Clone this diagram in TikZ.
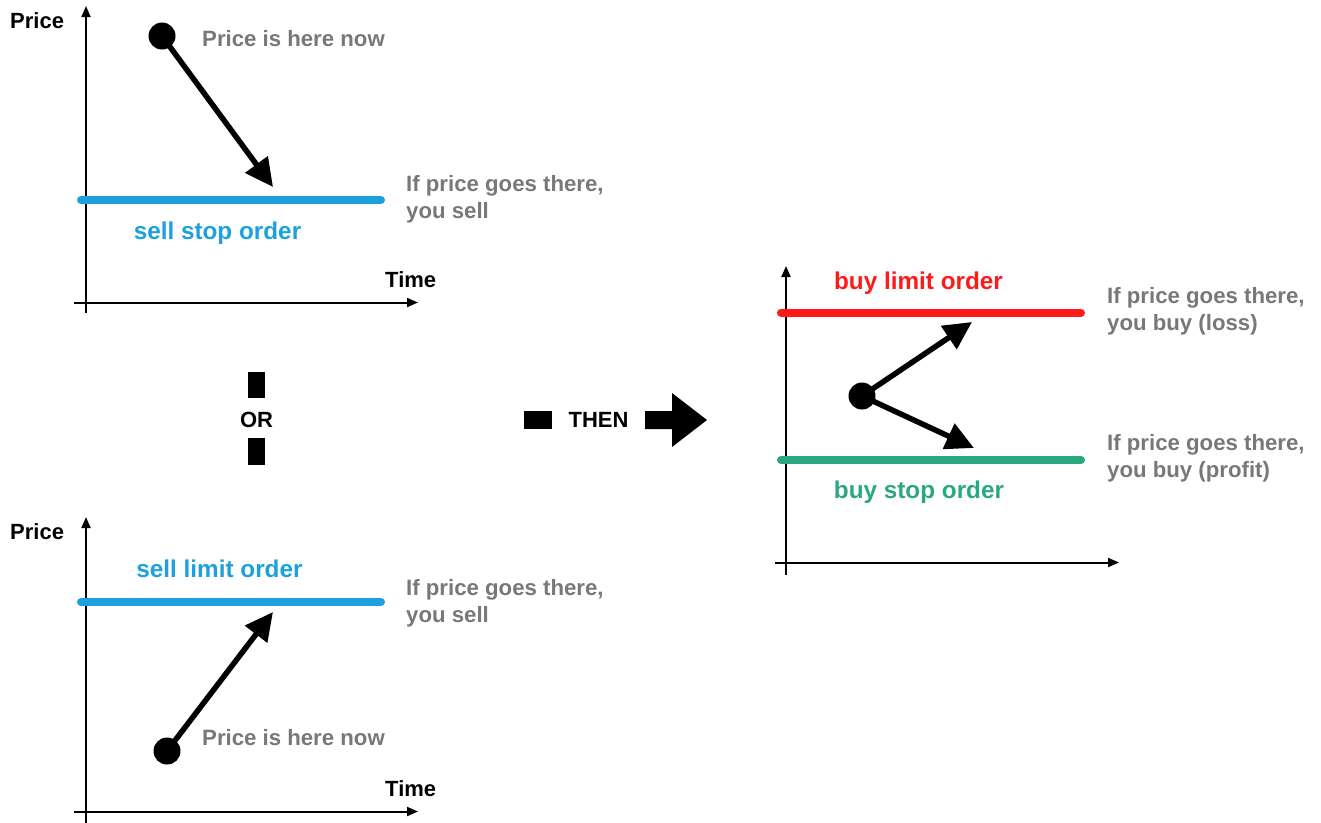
\documentclass[tikz,border=0pt]{standalone}
\usepackage{fontspec}
\setmainfont{Liberation Sans}
\usetikzlibrary{arrows.meta}
\definecolor{grayText}{HTML}{787878}
\definecolor{sellBlue}{HTML}{1DA1DC}
\definecolor{buyRed}{HTML}{FF1A1A}
\definecolor{buyGreen}{HTML}{2BA882}
\tikzset{
  axisline/.style={line width=2pt, -{Triangle[length=11pt,width=9pt]}},
  bigarrow/.style={line width=5.5pt, -{Triangle[length=28pt,width=27pt]}},
  level/.style={line width=8pt, line cap=round},
  dotnode/.style={circle, fill=black, minimum size=27pt, inner sep=0pt},
  blacklbl/.style={font=\bfseries\fontsize{22}{26}\selectfont, text=black, inner sep=0pt},
  graylbl/.style={font=\bfseries\fontsize{22.2}{27}\selectfont, text=grayText, inner sep=0pt, anchor=west, align=left},
  ordlbl/.style={font=\bfseries\fontsize{24.3}{28}\selectfont, inner sep=0pt},
  blk/.style={fill=black, draw=none}
}
\begin{document}
\begin{tikzpicture}[x=1pt,y=-1pt]
\useasboundingbox (0,0) rectangle (1321,822);

% ---------- top panel ----------
\coordinate (ay1b) at (86,313);
\coordinate (ay1t) at (86,6);
\coordinate (ax1l) at (74,302.5);
\coordinate (ax1r) at (418,302.5);
\draw[axisline] (ay1b) -- (ay1t);
\draw[axisline] (ax1l) -- (ax1r);
\coordinate (l1a) at (81,200);
\coordinate (l1b) at (381,200);
\draw[level, sellBlue] (l1a) -- (l1b);
\node[dotnode] (dot1) at (162,36) {};
\coordinate (tip1) at (273,187);
\draw[bigarrow] (dot1.center) -- (tip1);
\node[blacklbl, anchor=west] (price1) at (10,21) {Price};
\node[blacklbl, anchor=west] (time1) at (385,279.5) {Time};
\node[graylbl] (now1) at (202,38.5) {Price is here now};
\node[graylbl] (if1) at (406,199) {If price goes there,\\you sell};
\node[ordlbl, text=sellBlue] (sstop) at (217.5,233.5) {sell stop order};

% ---------- bottom panel ----------
\coordinate (ay2b) at (86,823);
\coordinate (ay2t) at (86,517);
\coordinate (ax2l) at (74,811.5);
\coordinate (ax2r) at (418,811.5);
\draw[axisline] (ay2b) -- (ay2t);
\draw[axisline] (ax2l) -- (ax2r);
\coordinate (l2a) at (81,602);
\coordinate (l2b) at (381,602);
\draw[level, sellBlue] (l2a) -- (l2b);
\node[dotnode] (dot2) at (167,751) {};
\coordinate (tip2) at (273,612);
\draw[bigarrow] (dot2.center) -- (tip2);
\node[blacklbl, anchor=west] (price2) at (10,532) {Price};
\node[blacklbl, anchor=west] (time2) at (385,789) {Time};
\node[graylbl] (now2) at (202,737.5) {Price is here now};
\node[graylbl] (if2) at (406,603.5) {If price goes there,\\you sell};
\node[ordlbl, text=sellBlue] (slimit) at (219.5,568.5) {sell limit order};

% ---------- right panel ----------
\coordinate (ay3b) at (786,575);
\coordinate (ay3t) at (786,266);
\coordinate (ax3l) at (775,562.5);
\coordinate (ax3r) at (1119,562.5);
\draw[axisline] (ay3b) -- (ay3t);
\draw[axisline] (ax3l) -- (ax3r);
\coordinate (l3a) at (781,312.5);
\coordinate (l3b) at (1081,312.5);
\draw[level, buyRed] (l3a) -- (l3b);
\coordinate (l4a) at (781,460);
\coordinate (l4b) at (1081,460);
\draw[level, buyGreen] (l4a) -- (l4b);
\node[dotnode] (dot3) at (862,396) {};
\coordinate (tip3) at (972,322);
\coordinate (tip4) at (974,448);
\draw[bigarrow] (dot3.center) -- (tip3);
\draw[bigarrow] (dot3.center) -- (tip4);
\node[ordlbl, text=buyRed] (blimit) at (918.5,283.5) {buy limit order};
\node[ordlbl, text=buyGreen] (bstop) at (919,492.5) {buy stop order};
\node[graylbl] (if3) at (1107,311) {If price goes there,\\you buy (loss)};
\node[graylbl] (if4) at (1107,458.5) {If price goes there,\\you buy (profit)};

% ---------- OR ----------
\fill[blk] (248,372) rectangle (265,398);
\fill[blk] (248,438) rectangle (265,465);
\node[blacklbl] (orlbl) at (256.5,420) {OR};

% ---------- THEN ----------
\fill[blk] (524,411) rectangle (552,429);
\node[blacklbl] (thenlbl) at (598.5,420) {THEN};
\fill[blk] (645,411) -- (672,411) -- (672,393) -- (707,420) -- (672,447) -- (672,429) -- (645,429) -- cycle;
\end{tikzpicture}
\end{document}
